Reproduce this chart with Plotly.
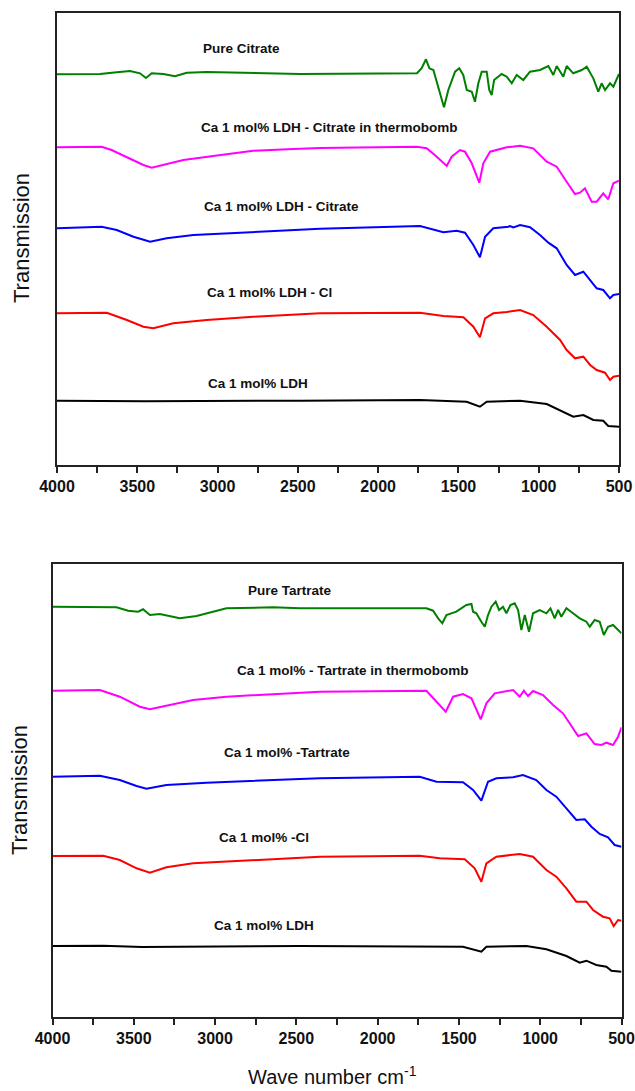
import plotly.graph_objects as go

# ---------------- Top panel (citrate series) ----------------
cit_pure_wn = [4000, 3732, 3628, 3545, 3483, 3446, 3410, 3338, 3265, 3192, 3068, 2860, 2655, 2487,
               1758, 1729, 1702, 1681, 1656, 1625, 1590, 1563, 1521, 1495, 1470, 1448, 1417, 1397, 1376,
               1355, 1324, 1308, 1293, 1278, 1252, 1231, 1199, 1168, 1137, 1096, 1054, 992, 940, 909, 888,
               847, 826, 785, 732, 701, 660, 629, 608, 587, 556, 535, 500]
cit_pure_t = [390.7, 391, 392.7, 394, 391.7, 387, 391.7, 391, 388.7, 392.3, 393, 392.3, 391.7, 391,
              391.7, 396.7, 405.7, 396.7, 395, 378.3, 357.7, 375, 393.3, 396.7, 390, 375, 373.3, 363.3, 381.7,
              393.3, 393.3, 375, 370, 385, 388.3, 391, 388.3, 381.7, 390, 385, 393.3, 395, 399, 390, 399,
              388.3, 399, 391.7, 395, 398.3, 386.7, 373.3, 381.7, 375, 381.7, 378.3, 391]

cit_thermo_wn = [4000, 3722, 3660, 3545, 3462, 3410, 3338, 3213, 3027, 2778, 2528, 2362, 1760, 1698, 1635,
                 1573, 1542, 1490, 1459, 1417, 1370, 1345, 1303, 1262, 1241, 1199, 1116, 1034, 950, 888,
                 826, 774, 743, 712, 670, 639, 598, 567, 535, 500]
cit_thermo_t = [317.7, 318.3, 315, 306.7, 300, 297.3, 300, 305, 309, 314.3, 316, 317, 318.3, 316.7, 308.3,
                299, 308.3, 315, 313.3, 301.7, 282.3, 301.7, 313.3, 315, 315.7, 317.7, 319.3, 316.7, 303.3, 298.3,
                283.3, 271, 272.3, 276.7, 263.3, 263.3, 271.7, 265.7, 281.7, 284.3]

cit_ldh_wn = [4000, 3722, 3628, 3524, 3420, 3317, 3151, 2860, 2570, 2362, 1739, 1656, 1594, 1511, 1459,
              1407, 1366, 1334, 1283, 1189, 1179, 1158, 1116, 1054, 992, 940, 888, 826, 774, 722, 691,
              639, 598, 556, 535, 500]
cit_ldh_t = [236.7, 238.3, 235, 228.3, 223.3, 226.7, 230, 232.3, 235, 236.3, 239, 235, 232.7, 234.3, 232.3,
             220, 207.7, 228.3, 236.7, 238.3, 239, 237.5, 240, 237.7, 230, 222.3, 216.7, 200, 190, 193.3, 186.7,
             176.7, 175, 166.7, 170, 171]

cit_cl_wn = [4000, 3690, 3565, 3462, 3400, 3276, 3068, 2778, 2362, 1739, 1594, 1469, 1407, 1366, 1334,
             1283, 1199, 1116, 1034, 950, 867, 826, 774, 722, 680, 639, 587, 556, 535, 500]
cit_cl_t = [151.7, 152.3, 145, 138.3, 136.7, 141.7, 145, 148.3, 151.7, 152.3, 149, 147.7, 138.3, 127.7, 146.7,
            151.7, 153, 155, 150, 138.3, 125, 115, 106.7, 108.3, 100, 95, 92.3, 85, 88.3, 89.3]

cit_base_wn = [4000, 3450, 2487, 1739, 1449, 1366, 1324, 1116, 950, 847, 785, 722, 660, 598, 567, 500]
cit_base_t = [64.3, 63.8, 64.3, 65, 63.3, 58.3, 63.3, 64.3, 61, 53.3, 48.3, 50, 45, 44.3, 39, 38.3]

# ---------------- Bottom panel (tartrate series) ----------------
tar_pure_wn = [4000, 3606, 3535, 3473, 3443, 3401, 3340, 3217, 3114, 3012, 2961, 2930, 2643, 2479, 1700,
               1659, 1628, 1602, 1577, 1516, 1454, 1423, 1413, 1393, 1362, 1341, 1321, 1300, 1274, 1253,
               1229, 1208, 1183, 1157, 1136, 1116, 1095, 1069, 1044, 1003, 962, 937, 911, 890, 870, 839,
               798, 757, 716, 695, 665, 634, 609, 583, 552, 500]
tar_pure_t = [410.3, 409.7, 406.3, 405.3, 407.7, 402, 403, 398.7, 401, 405.3, 407, 408.7, 409.7, 408.7, 408.7,
              406.3, 398.7, 393.7, 402, 405.3, 412, 413, 405.3, 403.7, 395.3, 390.3, 402, 410.3, 415.3, 407,
              410.3, 403.7, 412, 413.7, 407, 387, 402, 385.3, 403.7, 407, 403.7, 408.7, 398.7, 407, 400.3, 408.7,
              403.7, 398.7, 395.3, 390.3, 397, 395.3, 382, 390.3, 392, 383.7]

tar_thermo_wn = [4000, 3709, 3586, 3463, 3401, 3299, 3135, 2930, 2643, 2356, 1700, 1638, 1581, 1536, 1475,
                 1423, 1366, 1331, 1280, 1167, 1126, 1101, 1075, 1044, 983, 921, 860, 819, 767, 716, 665,
                 624, 593, 552, 521, 500]
tar_thermo_t = [326.3, 327, 320.3, 310.3, 307.7, 311, 317, 320.3, 323, 325.3, 326.3, 315.3, 305.3, 320.3, 323,
                318.7, 297.7, 313.7, 323.7, 327, 320.3, 326.3, 321, 326, 322, 312, 303.7, 293.7, 281, 283.7, 273,
                272, 274.3, 272, 280.3, 289.7]

tar_ldh_wn = [4000, 3709, 3586, 3483, 3422, 3299, 3053, 2643, 2356, 1741, 1638, 1475, 1413, 1362, 1321,
              1270, 1167, 1106, 1024, 962, 901, 839, 778, 726, 685, 634, 583, 542, 500]
tar_ldh_t = [240.3, 241.3, 237, 231, 228.3, 232, 234.3, 237, 238.7, 240.3, 235.3, 234.7, 227, 216.3, 235.3,
             238.7, 239.7, 242, 237, 227, 220.3, 208.7, 197, 197.7, 190.3, 183, 179.7, 172, 170.3]

tar_cl_wn = [4000, 3688, 3586, 3483, 3401, 3299, 3135, 2848, 2356, 1741, 1618, 1464, 1403, 1362, 1331,
             1270, 1126, 1044, 962, 901, 839, 778, 716, 675, 614, 573, 548, 521, 500]
tar_cl_t = [161, 161.3, 157, 148.7, 144.3, 149.7, 153.7, 156.3, 160.3, 161.3, 158.7, 157.7, 148.7, 135.3, 153.7,
            160.3, 163, 160.3, 147, 140.3, 128.7, 115.3, 115.3, 107, 100.3, 98.7, 91, 97, 96.3]

tar_base_wn = [4000, 3688, 3450, 2479, 1475, 1413, 1362, 1331, 1085, 962, 839, 757, 716, 655, 593, 562, 500]
tar_base_t = [71, 71.3, 70, 71, 70.3, 67.7, 65.3, 70.3, 71, 67.7, 61, 54.3, 56.3, 52, 50.3, 46.3, 45.3]

colors = {"green": "#008000", "magenta": "#FF00FF", "blue": "#0000FF", "red": "#FF0000", "black": "#000000"}

top_series = [
    ("Pure Citrate", cit_pure_wn, cit_pure_t, colors["green"]),
    ("Ca 1 mol% LDH - Citrate in thermobomb", cit_thermo_wn, cit_thermo_t, colors["magenta"]),
    ("Ca 1 mol% LDH - Citrate", cit_ldh_wn, cit_ldh_t, colors["blue"]),
    ("Ca 1 mol% LDH - Cl", cit_cl_wn, cit_cl_t, colors["red"]),
    ("Ca 1 mol% LDH", cit_base_wn, cit_base_t, colors["black"]),
]
bottom_series = [
    ("Pure Tartrate", tar_pure_wn, tar_pure_t, colors["green"]),
    ("Ca 1 mol% - Tartrate in thermobomb", tar_thermo_wn, tar_thermo_t, colors["magenta"]),
    ("Ca 1 mol% -Tartrate", tar_ldh_wn, tar_ldh_t, colors["blue"]),
    ("Ca 1 mol% -Cl", tar_cl_wn, tar_cl_t, colors["red"]),
    ("Ca 1 mol% LDH", tar_base_wn, tar_base_t, colors["black"]),
]

x_ticks = [4000, 3500, 3000, 2500, 2000, 1500, 1000, 500]
x_ticktext = [str(v) for v in x_ticks]

W, H = 635, 1091
FONT = "Arial, Liberation Sans, sans-serif"

fig = go.Figure()

for name, wn, t, c in top_series:
    fig.add_trace(go.Scatter(x=wn, y=t, mode="lines", name=name, line=dict(color=c, width=2),
                             xaxis="x", yaxis="y", showlegend=False))
for name, wn, t, c in bottom_series:
    fig.add_trace(go.Scatter(x=wn, y=t, mode="lines", name=name, line=dict(color=c, width=2),
                             xaxis="x2", yaxis="y2", showlegend=False))

def xaxis_cfg(domain, anchor):
    return dict(domain=domain, anchor=anchor, range=[4000, 500], tickmode="array",
                tickvals=x_ticks, ticktext=x_ticktext, ticks="outside", ticklen=6, tickwidth=1.5,
                tickcolor="#222", showline=True, linecolor="#222", linewidth=1.5, mirror=True,
                showgrid=False, zeroline=False, automargin=False,
                tickfont=dict(family=FONT, size=16, color="#111", weight="bold"),
                minor=dict(dtick=250, tick0=500, ticks="outside", ticklen=6, tickwidth=1.5, tickcolor="#222",
                           showgrid=False))

def yaxis_cfg(domain, anchor, rng):
    return dict(domain=domain, anchor=anchor, range=rng, showticklabels=False, ticks="",
                showline=True, linecolor="#222", linewidth=1.5, mirror=True, showgrid=False,
                zeroline=False, automargin=False)

top_dom_x = [57 / W, 619 / W]
bot_dom_x = [52.5 / W, 621.5 / W]
top_dom_y = [(H - 465) / H, (H - 13) / H]
bot_dom_y = [(H - 1017) / H, (H - 564) / H]

fig.update_layout(
    width=W, height=H, margin=dict(l=0, r=0, t=0, b=0, autoexpand=False),
    paper_bgcolor="white", plot_bgcolor="white",
    xaxis=xaxis_cfg(top_dom_x, "y"),
    yaxis=yaxis_cfg(top_dom_y, "x", [0, 452]),
    xaxis2=xaxis_cfg(bot_dom_x, "y2"),
    yaxis2=yaxis_cfg(bot_dom_y, "x2", [0, 453]),
)

# curve labels (positions in data coordinates)
top_label_pos = [(2848, 416), (2300, 337), (2599, 258), (2675, 173), (2748, 82)]
bot_label_pos = [(2540, 427), (2150, 347), (2560, 265), (2700, 180), (2700, 92)]
for (name, _, _, _), (lx, ly) in zip(top_series, top_label_pos):
    fig.add_annotation(x=lx, y=ly, xref="x", yref="y", text=name, showarrow=False,
                       xanchor="center", yanchor="middle",
                       font=dict(family=FONT, size=13.5, color="#111", weight="bold"))
for (name, _, _, _), (lx, ly) in zip(bottom_series, bot_label_pos):
    fig.add_annotation(x=lx, y=ly, xref="x2", yref="y2", text=name, showarrow=False,
                       xanchor="center", yanchor="middle",
                       font=dict(family=FONT, size=13.5, color="#111", weight="bold"))

# y-axis titles
for ycen, xc in [((H - 238) / H, 22 / W), ((H - 790) / H, 19 / W)]:
    fig.add_annotation(x=xc, y=ycen, xref="paper", yref="paper", text="Transmission", textangle=-90,
                       xanchor="center", yanchor="middle",
                       showarrow=False, font=dict(family=FONT, size=22, color="#111"))

# x-axis title
fig.add_annotation(x=332 / W, y=(H - 1075) / H, xref="paper", yref="paper",
                   text="Wave number cm<sup>-1</sup>", showarrow=False,
                   xanchor="center", yanchor="middle",
                   font=dict(family=FONT, size=20, color="#111"))

fig.write_html("out.html")
